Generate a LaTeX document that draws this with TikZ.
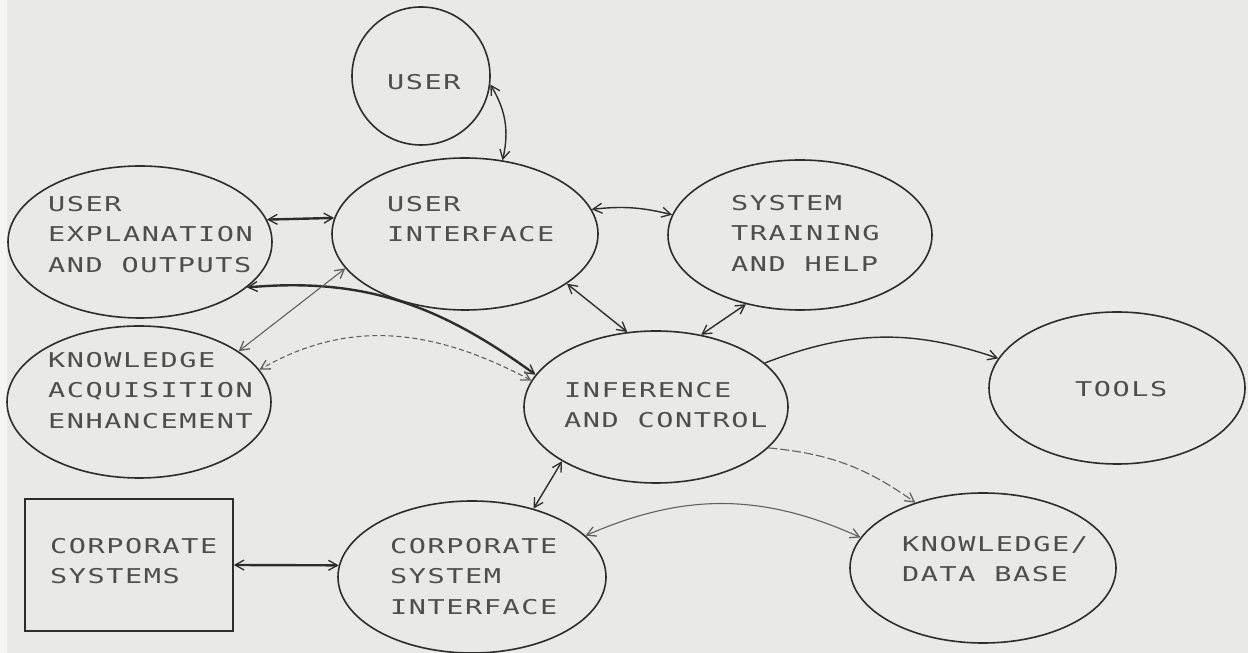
\documentclass[tikz,border=0pt]{standalone}
\usepackage{fontspec}
\newfontfamily\plotter[FakeStretch=1.4,LetterSpace=7.6]{DejaVu Sans Mono}
\usetikzlibrary{shapes.geometric,arrows.meta}
\definecolor{paper}{RGB}{233,233,231}
\definecolor{ink}{RGB}{45,45,45}
\definecolor{textink}{RGB}{78,78,78}

\begin{document}
\begin{tikzpicture}[x=1pt,y=1pt,
  oval/.style={ellipse, draw=ink, line width=1.6pt, inner sep=0pt},
  lbl/.style={anchor=north west, inner sep=0pt, align=left, text=textink,
    font=\plotter\fontsize{20.4pt}{30.4pt}\selectfont},
  link/.style={draw=ink, line width=1.4pt},
  heavy/.style={draw=ink, line width=2.4pt},
  faint/.style={draw=ink!75, line width=1.1pt},
  barb/.tip={Straight Barb[length=9pt,width=10pt,line width=1.3pt]},
  twoway/.style={barb-barb},
  oneway/.style={-barb},
]
\useasboundingbox (0,0) rectangle (1248,653);
\fill[paper] (0,0) rectangle (1248,653);
\fill[white!55!paper] (0,0) rectangle (7,653);

% boxes and ovals
\node[oval, minimum width=138pt, minimum height=138pt] (user)  at (421,577) {};
\node[oval, minimum width=266pt, minimum height=152pt] (ui)    at (465,419) {};
\node[oval, minimum width=264pt, minimum height=150pt] (sth)   at (800,418) {};
\node[oval, minimum width=264pt, minimum height=152pt] (ue)    at (140,411) {};
\node[oval, minimum width=264pt, minimum height=152pt] (ka)    at (139,251) {};
\node[oval, minimum width=264pt, minimum height=152pt] (inf)   at (656,246) {};
\node[oval, minimum width=256pt, minimum height=152pt] (tools) at (1117,265) {};
\node[oval, minimum width=268pt, minimum height=152pt] (csi)   at (472,76) {};
\node[oval, minimum width=266pt, minimum height=150pt] (kdb)   at (983,85) {};
\node[draw=ink, line width=1.6pt, minimum width=208pt, minimum height=132pt,
      inner sep=0pt] (cs) at (129,88) {};

% labels
\node[lbl] (user-t)  at (387,579) {USER};
\node[lbl] (ui-t)    at (387,457) {USER\\INTERFACE};
\node[lbl] (sth-t)   at (731,458) {SYSTEM\\TRAINING\\AND HELP};
\node[lbl] (ue-t)    at (48,457)  {USER\\EXPLANATION\\AND OUTPUTS};
\node[lbl] (ka-t)    at (48,301)  {KNOWLEDGE\\ACQUISITION\\ENHANCEMENT};
\node[lbl] (inf-t)   at (564,271) {INFERENCE\\AND CONTROL};
\node[lbl] (tools-t) at (1075,272) {TOOLS};
\node[lbl] (cs-t)    at (50,115)  {CORPORATE\\SYSTEMS};
\node[lbl] (csi-t)   at (390,115) {CORPORATE\\SYSTEM\\INTERFACE};
\node[lbl] (kdb-t)   at (902,117) {KNOWLEDGE/\\DATA BASE};

% connectors
\draw[link, twoway]  (user.-7) to[bend left=22] (ui.63);
\draw[heavy, twoway] (ue.10.6) -- (ui.173);
\draw[link, twoway]  (ui.11.7) to[bend left=10] (sth.171);
\draw[link, twoway]  (ui.-26) -- (inf.111.5);
\draw[link, twoway]  (inf.58.8) -- (sth.-128);
\draw[heavy, twoway] (ue.-23) to[out=5, in=144] (inf.165);
\draw[faint, twoway] (ka.27.4) -- (ui.-164);
\draw[faint, twoway, dash pattern=on 5pt off 3pt] (inf.168) to[out=152, in=30] (ka.15);
\draw[link, twoway]  (inf.-150) -- (csi.48.5);
\draw[heavy, twoway] (cs.east) -- (csi.175);
\draw[faint, twoway] (csi.20.3) to[bend left=24] (kdb.166.8);
\draw[link, oneway]  (inf.22) to[bend left=20] (tools.166.6);
\draw[faint, oneway, dash pattern=on 9pt off 3pt] (inf.-20) to[bend left=15] (kdb.136.7);
\end{tikzpicture}
\end{document}
